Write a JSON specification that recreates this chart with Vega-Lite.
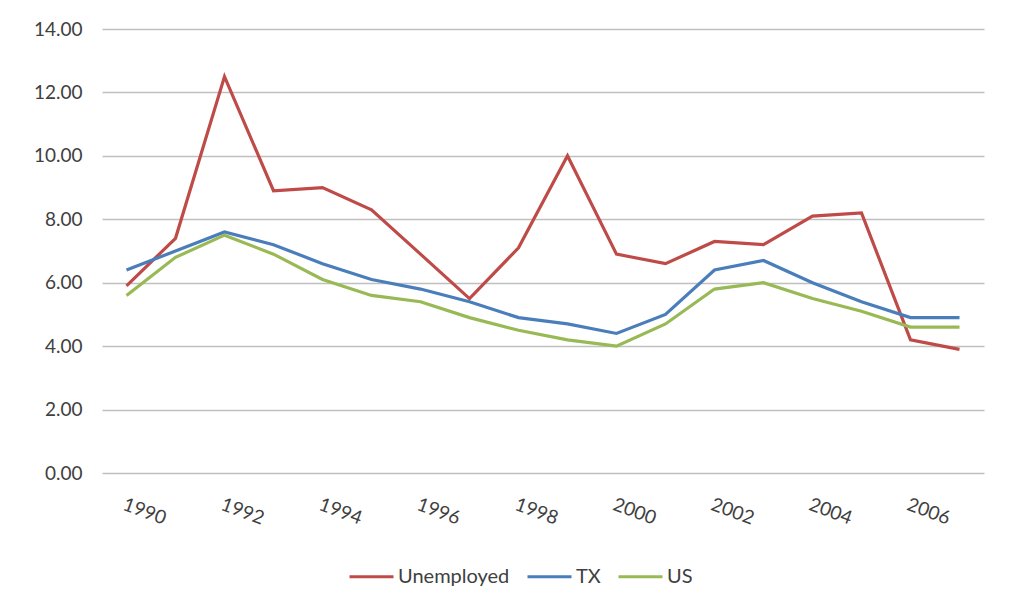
{
  "$schema": "https://vega.github.io/schema/vega-lite/v6.json",
  "autosize": {"type": "none"},
  "width": 882,
  "height": 444,
  "padding": {"left": 102, "top": 29, "right": 29, "bottom": 136},
  "background": "white",
  "config": {
    "view": {"stroke": null},
    "font": "Lato",
    "axis": {"labelFont": "Lato", "labelColor": "#404040", "labelFontSize": 19}
  },
  "data": {
    "values": [
      {"year": "1990", "series": "Unemployed", "value": 5.9},
      {"year": "1991", "series": "Unemployed", "value": 7.4},
      {"year": "1992", "series": "Unemployed", "value": 12.5},
      {"year": "1993", "series": "Unemployed", "value": 8.9},
      {"year": "1994", "series": "Unemployed", "value": 9.0},
      {"year": "1995", "series": "Unemployed", "value": 8.3},
      {"year": "1996", "series": "Unemployed", "value": 6.9},
      {"year": "1997", "series": "Unemployed", "value": 5.5},
      {"year": "1998", "series": "Unemployed", "value": 7.1},
      {"year": "1999", "series": "Unemployed", "value": 10.0},
      {"year": "2000", "series": "Unemployed", "value": 6.9},
      {"year": "2001", "series": "Unemployed", "value": 6.6},
      {"year": "2002", "series": "Unemployed", "value": 7.3},
      {"year": "2003", "series": "Unemployed", "value": 7.2},
      {"year": "2004", "series": "Unemployed", "value": 8.1},
      {"year": "2005", "series": "Unemployed", "value": 8.2},
      {"year": "2006", "series": "Unemployed", "value": 4.2},
      {"year": "2007", "series": "Unemployed", "value": 3.9},
      {"year": "1990", "series": "TX", "value": 6.4},
      {"year": "1991", "series": "TX", "value": 7.0},
      {"year": "1992", "series": "TX", "value": 7.6},
      {"year": "1993", "series": "TX", "value": 7.2},
      {"year": "1994", "series": "TX", "value": 6.6},
      {"year": "1995", "series": "TX", "value": 6.1},
      {"year": "1996", "series": "TX", "value": 5.8},
      {"year": "1997", "series": "TX", "value": 5.4},
      {"year": "1998", "series": "TX", "value": 4.9},
      {"year": "1999", "series": "TX", "value": 4.7},
      {"year": "2000", "series": "TX", "value": 4.4},
      {"year": "2001", "series": "TX", "value": 5.0},
      {"year": "2002", "series": "TX", "value": 6.4},
      {"year": "2003", "series": "TX", "value": 6.7},
      {"year": "2004", "series": "TX", "value": 6.0},
      {"year": "2005", "series": "TX", "value": 5.4},
      {"year": "2006", "series": "TX", "value": 4.9},
      {"year": "2007", "series": "TX", "value": 4.9},
      {"year": "1990", "series": "US", "value": 5.6},
      {"year": "1991", "series": "US", "value": 6.8},
      {"year": "1992", "series": "US", "value": 7.5},
      {"year": "1993", "series": "US", "value": 6.9},
      {"year": "1994", "series": "US", "value": 6.1},
      {"year": "1995", "series": "US", "value": 5.6},
      {"year": "1996", "series": "US", "value": 5.4},
      {"year": "1997", "series": "US", "value": 4.9},
      {"year": "1998", "series": "US", "value": 4.5},
      {"year": "1999", "series": "US", "value": 4.2},
      {"year": "2000", "series": "US", "value": 4.0},
      {"year": "2001", "series": "US", "value": 4.7},
      {"year": "2002", "series": "US", "value": 5.8},
      {"year": "2003", "series": "US", "value": 6.0},
      {"year": "2004", "series": "US", "value": 5.5},
      {"year": "2005", "series": "US", "value": 5.1},
      {"year": "2006", "series": "US", "value": 4.6},
      {"year": "2007", "series": "US", "value": 4.6}
    ]
  },
  "mark": {"type": "line", "strokeWidth": 3.2},
  "encoding": {
    "x": {
      "field": "year",
      "type": "ordinal",
      "scale": {"type": "point", "padding": 0.5},
      "axis": {
        "title": null,
        "values": ["1990", "1992", "1994", "1996", "1998", "2000", "2002", "2004", "2006"],
        "domain": false,
        "ticks": false,
        "grid": false,
        "labelAngle": 20,
        "labelAlign": "left",
        "labelBaseline": "top",
        "labelPadding": 22
      }
    },
    "y": {
      "field": "value",
      "type": "quantitative",
      "scale": {"domain": [0, 14], "nice": false},
      "axis": {
        "title": null,
        "values": [0, 2, 4, 6, 8, 10, 12, 14],
        "format": ".2f",
        "domain": false,
        "ticks": false,
        "labelPadding": 20,
        "gridColor": "#bfbfbf",
        "gridWidth": 1.5
      }
    },
    "color": {
      "field": "series",
      "type": "nominal",
      "sort": ["Unemployed", "TX", "US"],
      "scale": {"domain": ["Unemployed", "TX", "US"], "range": ["#be4b48", "#4a7ebb", "#98b954"]},
      "legend": {
        "title": null,
        "orient": "none",
        "direction": "horizontal",
        "legendX": 246,
        "legendY": 524,
        "symbolType": "stroke",
        "symbolSize": 1936,
        "symbolStrokeWidth": 3,
        "labelFont": "Lato",
        "labelFontSize": 20,
        "labelColor": "#404040",
        "labelOffset": 3,
        "columnPadding": 11
      }
    }
  }
}
